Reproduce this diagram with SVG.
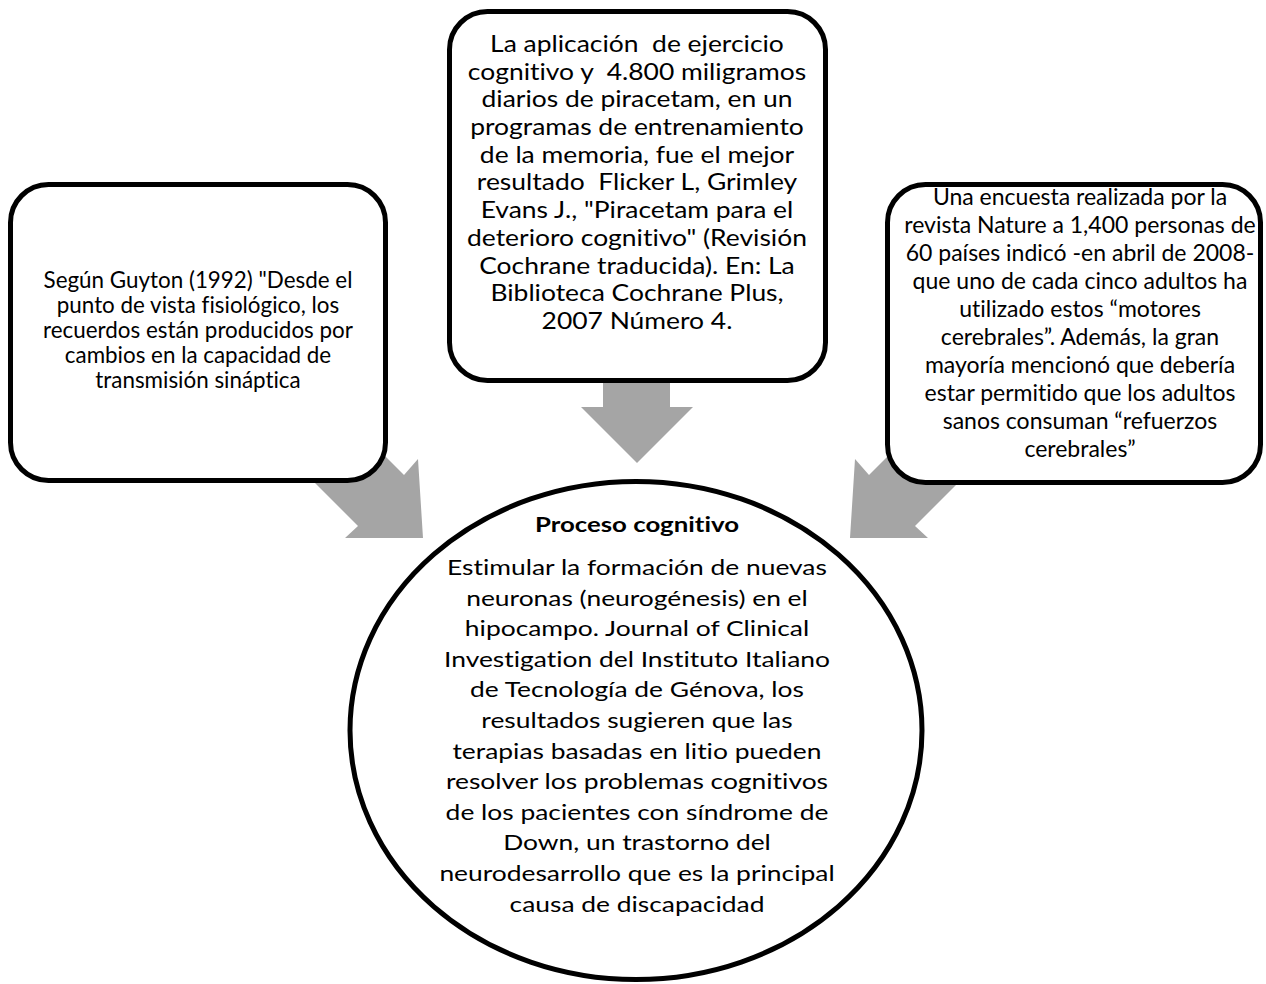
<svg xmlns="http://www.w3.org/2000/svg" width="1266" height="984" viewBox="0 0 1266 984">
  <style>
    .box { fill: #ffffff; stroke: #000000; stroke-width: 5; }
    .arrow { fill: #a5a5a5; stroke: none; }
    text { font-family: Lato, "Open Sans", "Liberation Sans", sans-serif; fill: #000000; text-anchor: middle; font-variant-ligatures: none; }
    .left { font-size: 22.4px; }
    .right { font-size: 23px; }
    .top { font-size: 23px; }
    .core { font-size: 22px; }
    .title { font-size: 21.5px; font-weight: bold; }
  </style>

  <!-- block arrows pointing at the central circle -->
  <g id="connectors">
    <polygon class="arrow" points="603,370 670,370 670,407 693,407 637,463 581,407 603,407"/>
    <polygon class="arrow" points="340,411 404,475 418,459 423,538 345,538 358,526 294,462"/>
    <polygon class="arrow" points="933,411 869,475 855,459 850,538 928,538 915,526 979,462"/>
  </g>

  <g id="guyton">
    <rect class="box" x="10.5" y="184.5" width="375" height="296" rx="38" ry="38"/>
    <text class="left"><tspan x="198" y="288">Según Guyton (1992) "Desde el</tspan><tspan x="198" y="313">punto de vista fisiológico, los</tspan><tspan x="198" y="338">recuerdos están producidos por</tspan><tspan x="198" y="363">cambios en la capacidad de</tspan><tspan x="198" y="388">transmisión sináptica</tspan></text>
  </g>

  <g id="piracetam">
    <rect class="box" x="449.5" y="11.5" width="376" height="369" rx="38" ry="38"/>
    <!-- wide setting: stretched horizontally about the box centre -->
    <g transform="translate(637 0) scale(1.15 1) translate(-637 0)">
      <text class="top"><tspan x="637" y="52">La aplicación&#160; de ejercicio</tspan><tspan x="637" y="79.7">cognitivo y&#160; 4.800 miligramos</tspan><tspan x="637" y="107.4">diarios de piracetam, en un</tspan><tspan x="637" y="135.1">programas de entrenamiento</tspan><tspan x="637" y="162.8">de la memoria, fue el mejor</tspan><tspan x="637" y="190.5">resultado&#160; Flicker L, Grimley</tspan><tspan x="637" y="218.2">Evans J., "Piracetam para el</tspan><tspan x="637" y="245.9">deterioro cognitivo" (Revisión</tspan><tspan x="637" y="273.6">Cochrane traducida). En: La</tspan><tspan x="637" y="301.3">Biblioteca Cochrane Plus,</tspan><tspan x="637" y="329">2007 Número 4.</tspan></text>
    </g>
  </g>

  <g id="encuesta">
    <rect class="box" x="887.5" y="184.5" width="373" height="298" rx="38" ry="38"/>
    <text class="right"><tspan x="1080" y="205">Una encuesta realizada por la</tspan><tspan x="1080" y="233">revista Nature a 1,400 personas de</tspan><tspan x="1080" y="261">60 países indicó -en abril de 2008-</tspan><tspan x="1080" y="289">que uno de cada cinco adultos ha</tspan><tspan x="1080" y="317">utilizado estos “motores</tspan><tspan x="1080" y="345">cerebrales”. Además, la gran</tspan><tspan x="1080" y="373">mayoría mencionó que debería</tspan><tspan x="1080" y="401">estar permitido que los adultos</tspan><tspan x="1080" y="429">sanos consuman “refuerzos</tspan><tspan x="1080" y="457">cerebrales”</tspan></text>
  </g>

  <g id="proceso">
    <ellipse class="box" cx="636" cy="730.5" rx="286" ry="249"/>
    <!-- circle text is set wide: stretched horizontally about the centre line -->
    <g transform="translate(637 0) scale(1.2 1) translate(-637 0)">
      <text class="title" x="637" y="532">Proceso cognitivo</text>
      <text class="core"><tspan x="637" y="575">Estimular la formación de nuevas</tspan><tspan x="637" y="605.6">neuronas (neurogénesis) en el</tspan><tspan x="637" y="636.2">hipocampo. Journal of Clinical</tspan><tspan x="637" y="666.8">Investigation del Instituto Italiano</tspan><tspan x="637" y="697.4">de Tecnología de Génova, los</tspan><tspan x="637" y="728">resultados sugieren que las</tspan><tspan x="637" y="758.6">terapias basadas en litio pueden</tspan><tspan x="637" y="789.2">resolver los problemas cognitivos</tspan><tspan x="637" y="819.8">de los pacientes con síndrome de</tspan><tspan x="637" y="850.4">Down, un trastorno del</tspan><tspan x="637" y="881">neurodesarrollo que es la principal</tspan><tspan x="637" y="911.6">causa de discapacidad</tspan></text>
    </g>
  </g>
</svg>
